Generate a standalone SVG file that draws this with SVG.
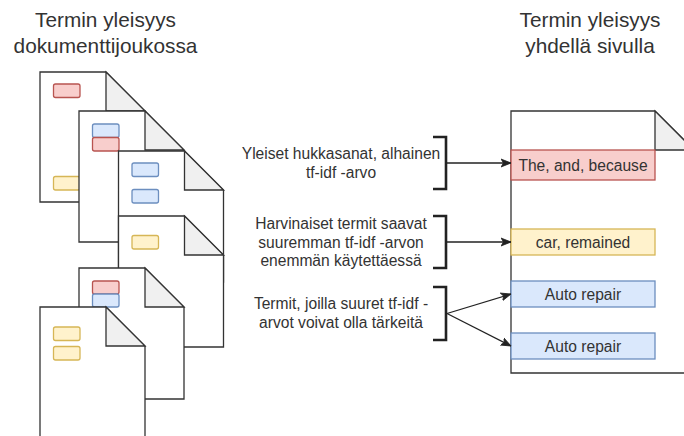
<svg xmlns="http://www.w3.org/2000/svg" width="684" height="436" viewBox="0 0 684 436">
<style>
  .doc { fill: #ffffff; stroke: #333333; stroke-width: 1.3; stroke-linejoin: miter; }
  .fold { fill: #f0f0f0; stroke: #333333; stroke-width: 1.3; }
  .r { fill: #f8cecc; stroke: #b85450; stroke-width: 1.3; }
  .b { fill: #dae8fc; stroke: #6c8ebf; stroke-width: 1.3; }
  .y { fill: #fff2cc; stroke: #d6b656; stroke-width: 1.3; }
  .title { font-family: "Liberation Sans", Arial, sans-serif; font-size: 20.8px; fill: #333333; text-anchor: middle; }
  .lbl { font-family: "Liberation Sans", Arial, sans-serif; font-size: 15.6px; fill: #333333; text-anchor: middle; }
  .br { fill: none; stroke: #222222; stroke-width: 2.6; }
  .con { fill: none; stroke: #222222; stroke-width: 1.3; }
</style>
<defs>
  <marker id="arr" markerUnits="userSpaceOnUse" markerWidth="12" markerHeight="10" refX="10" refY="4" orient="auto" viewBox="0 0 12 8">
    <path d="M0,0 L10,4 L0,8 L2.5,4 Z" fill="#222222" stroke="#222222" stroke-width="0.8"/>
  </marker>
</defs>

<g id="title-left">
  <text class="title" x="105.5" y="27">Termin yleisyys</text>
  <text class="title" x="105.5" y="52.5">dokumenttijoukossa</text>
</g>
<g id="title-right">
  <text class="title" x="590" y="27">Termin yleisyys</text>
  <text class="title" x="590" y="52.5">yhdellä sivulla</text>
</g>

<g id="doc1" transform="translate(40,72)">
  <path class="doc" d="M0,0 H66 L105,39 V130 H0 Z"/>
  <path class="fold" d="M66,0 V39 H105 Z"/>
  <rect class="r" x="13.5" y="12" width="26.5" height="13.5" rx="2"/>
  <rect class="y" x="13.5" y="104.5" width="26.5" height="13.5" rx="2"/>
</g>
<g id="doc2" transform="translate(79,111)">
  <path class="doc" d="M0,0 H66 L105,39 V131 H0 Z"/>
  <path class="fold" d="M66,0 V39 H105 Z"/>
  <rect class="b" x="13.5" y="13" width="26.5" height="13.5" rx="2"/>
  <rect class="r" x="13.5" y="26.5" width="26.5" height="13.5" rx="2"/>
</g>
<g id="doc3" transform="translate(118.5,151)">
  <path class="doc" d="M0,0 H66 L105,39 V131 H0 Z"/>
  <path class="fold" d="M66,0 V39 H105 Z"/>
  <rect class="b" x="13.5" y="12" width="26.5" height="13.5" rx="2"/>
  <rect class="b" x="13.5" y="38.5" width="26.5" height="13.5" rx="2"/>
</g>
<g id="doc4" transform="translate(118.5,216)">
  <path class="doc" d="M0,0 H66 L105,39 V131 H0 Z"/>
  <path class="fold" d="M66,0 V39 H105 Z"/>
  <rect class="y" x="13.5" y="19.5" width="26.5" height="13.5" rx="2"/>
</g>
<g id="doc5" transform="translate(79,268)">
  <path class="doc" d="M0,0 H66 L105,39 V131 H0 Z"/>
  <path class="fold" d="M66,0 V39 H105 Z"/>
  <rect class="r" x="13.5" y="13" width="26.5" height="13" rx="2"/>
  <rect class="b" x="13.5" y="26" width="26.5" height="13" rx="2"/>
</g>
<g id="doc6" transform="translate(40,307)">
  <path class="doc" d="M0,0 H66 L105,39 V131 H0 Z"/>
  <path class="fold" d="M66,0 V39 H105 Z"/>
  <rect class="y" x="13.5" y="20" width="26.5" height="13.5" rx="2"/>
  <rect class="y" x="13.5" y="39.5" width="26.5" height="13.5" rx="2"/>
</g>

<g id="page">
  <path class="doc" d="M511,111 H655 L694,150 V373 H511 Z"/>
  <path class="fold" d="M655,111 V150 H694 Z"/>
</g>
<g id="term-common">
  <rect class="r" x="511" y="150" width="144" height="30"/>
  <text class="lbl" x="583" y="170.5">The, and, because</text>
</g>
<g id="term-rare">
  <rect class="y" x="511" y="229" width="144" height="26"/>
  <text class="lbl" x="583" y="247.5">car, remained</text>
</g>
<g id="term-auto1">
  <rect class="b" x="511" y="281" width="144" height="26"/>
  <text class="lbl" x="583" y="299.5">Auto repair</text>
</g>
<g id="term-auto2">
  <rect class="b" x="511" y="333" width="144" height="26"/>
  <text class="lbl" x="583" y="351.5">Auto repair</text>
</g>

<g id="note1">
  <text class="lbl" x="341" y="159">Yleiset hukkasanat, alhainen</text>
  <text class="lbl" x="341" y="177.7">tf-idf -arvo</text>
  <path class="br" d="M433,137 H446 V189 H433"/>
</g>
<g id="note2">
  <text class="lbl" x="341" y="229">Harvinaiset termit saavat</text>
  <text class="lbl" x="341" y="247.6">suuremman tf-idf -arvon</text>
  <text class="lbl" x="341" y="266.2">enemmän käytettäessä</text>
  <path class="br" d="M433,216 H446 V268 H433"/>
</g>
<g id="note3">
  <text class="lbl" x="341" y="309">Termit, joilla suuret tf-idf -</text>
  <text class="lbl" x="341" y="327.6">arvot voivat olla tärkeitä</text>
  <path class="br" d="M433,287 H446 V340 H433"/>
</g>

<g id="connectors">
  <line class="con" x1="447" y1="163" x2="511" y2="163" marker-end="url(#arr)"/>
  <line class="con" x1="447" y1="242" x2="511" y2="242" marker-end="url(#arr)"/>
  <line class="con" x1="447" y1="313.5" x2="511" y2="294" marker-end="url(#arr)"/>
  <line class="con" x1="447" y1="313.5" x2="511" y2="346" marker-end="url(#arr)"/>
</g>
</svg>
